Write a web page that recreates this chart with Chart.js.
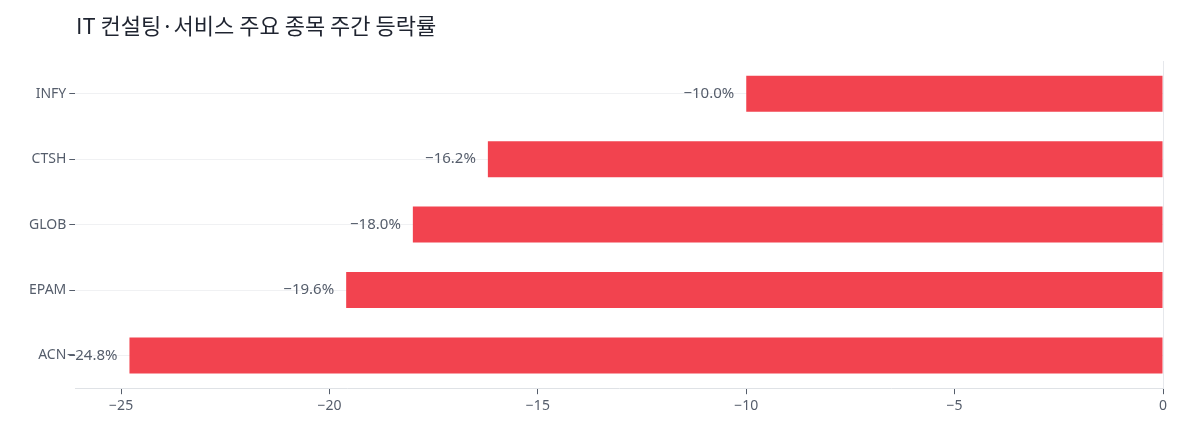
<!DOCTYPE html>
<html><head><meta charset="utf-8">
<script src="https://cdn.jsdelivr.net/npm/chart.js@4/dist/chart.umd.min.js"></script>
<style>html,body{margin:0;padding:0;background:#fff}#w{width:1185px;height:435px;position:relative}
#t{position:absolute;left:76px;top:8px;font:22px "Noto Sans CJK KR","Noto Sans",sans-serif;color:#1f2430}</style>
</head><body><div id="w"><div id="t">IT 컨설팅·서비스 주요 종목 주간 등락률</div><canvas id="c" width="1185" height="435"></canvas></div>
<script>
const categories=["INFY","CTSH","GLOB","EPAM","ACN"];
const values=[-10.0,-16.2,-18.0,-19.6,-24.8];
const xTicks=[-25,-20,-15,-10,-5,0];
const font='"Noto Sans","Noto Sans CJK KR",sans-serif';
const labelPlugin={id:'lbl',afterDatasetsDraw(ch){const ctx=ch.ctx;const m=ch.getDatasetMeta(0);
ctx.save();ctx.font='15px '+font;ctx.fillStyle='#555d6b';ctx.textAlign='right';ctx.textBaseline='middle';
m.data.forEach((b,i)=>{ctx.fillText('\u2212'+Math.abs(values[i]).toFixed(1)+'%',b.x-12,b.y);});ctx.restore();}};
new Chart(document.getElementById('c'),{type:'bar',
data:{labels:categories,datasets:[{data:values,backgroundColor:'#F2434F',barPercentage:0.55,categoryPercentage:1}]},
options:{indexAxis:'y',responsive:false,animation:false,
layout:{padding:{top:61,right:22,bottom:18,left:26}},
plugins:{legend:{display:false},tooltip:{enabled:false}},
scales:{x:{min:-26.1,max:0,afterBuildTicks(a){a.ticks=xTicks.map(v=>({value:v}));},
ticks:{color:'#555d6b',font:{family:font,size:14},callback:v=>v<0?'\u2212'+Math.abs(v):String(v)},
grid:{color:c=>c.tick&&c.tick.value===0?'#e6e8ec':'rgba(0,0,0,0)',drawTicks:true,tickLength:6,tickColor:'#555d6b'},
border:{color:'#dfe2e6'}},
y:{ticks:{color:'#555d6b',font:{family:font,size:14}},
grid:{offset:false,color:'#f0f1f3',tickColor:'#555d6b',tickLength:6},border:{display:false}}}},
plugins:[labelPlugin]});
</script></body></html>
